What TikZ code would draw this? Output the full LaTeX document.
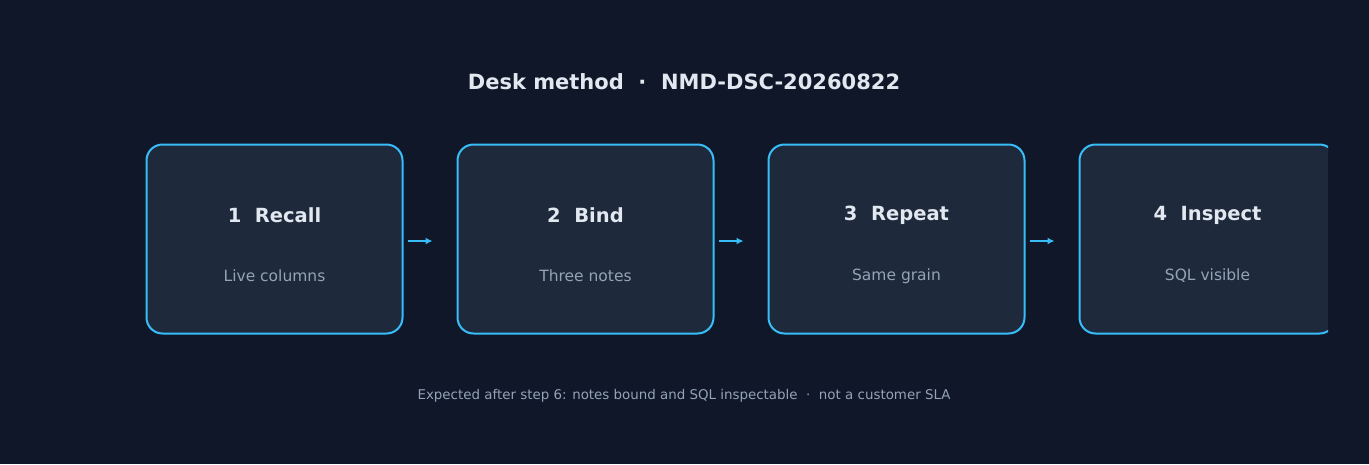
\documentclass[tikz,border=0pt]{standalone}
\usepackage{fontspec}
\setmainfont{DejaVu Sans}
\usetikzlibrary{positioning,arrows.meta}
\definecolor{bgdark}{HTML}{0F1729}
\definecolor{boxfill}{HTML}{1E293B}
\definecolor{accent}{HTML}{38BDF8}
\definecolor{titletext}{HTML}{E2E8F0}
\definecolor{subtext}{HTML}{94A3B8}
\tikzset{
  stage/.style={draw=accent,line width=2pt,fill=boxfill,rounded corners=16pt,
    minimum width=256pt,minimum height=189pt,inner sep=0pt},
  head/.style={text=titletext,font=\fontsize{19.5}{22}\selectfont\bfseries},
  sub/.style={text=subtext,font=\fontsize{15.5}{18}\selectfont},
  flow/.style={accent,line width=2pt,-{Latex[length=7pt,width=7pt]},shorten <=4pt,shorten >=24pt}
}
\begin{document}
\begin{tikzpicture}[x=1pt,y=-1pt]
  \fill[bgdark] (0,0) rectangle (1369,464);
  \useasboundingbox (0,0) rectangle (1369,464);
  \node[text=titletext,font=\fontsize{21}{24}\selectfont\bfseries] (title) at (684,82) {Desk method \ ·\ \ NMD-DSC-20260822};
  \begin{scope}
    \clip (0,0) rectangle (1328,464);
    \node[stage] (b1) at (274.5,239) {};
    \node[stage,right=53pt of b1] (b2) {};
    \node[stage,right=53pt of b2] (b3) {};
    \node[stage,right=53pt of b3] (b4) {};
  \end{scope}
  % labels
  \foreach \b/\h/\s in {b1/1\ \ Recall/Live columns,b2/2\ \ Bind/Three notes,
      b3/3\ \ Repeat/Same grain,b4/4\ \ Inspect/SQL visible}{
    \node[head] (\b-h) at ([yshift=24pt]\b.center) {\h};
    \node[sub] (\b-s) at ([yshift=-37pt]\b.center) {\s};
  }
  \draw[flow] ([yshift=-2pt]b1.east) -- ([yshift=-2pt]b2.west);
  \draw[flow] ([yshift=-2pt]b2.east) -- ([yshift=-2pt]b3.west);
  \draw[flow] ([yshift=-2pt]b3.east) -- ([yshift=-2pt]b4.west);
  \node[text=subtext,font=\fontsize{13.4}{16}\selectfont] (note) at (684,396)
    {Expected after step 6: notes bound and SQL inspectable \ ·\ \ not a customer SLA};
\end{tikzpicture}
\end{document}
